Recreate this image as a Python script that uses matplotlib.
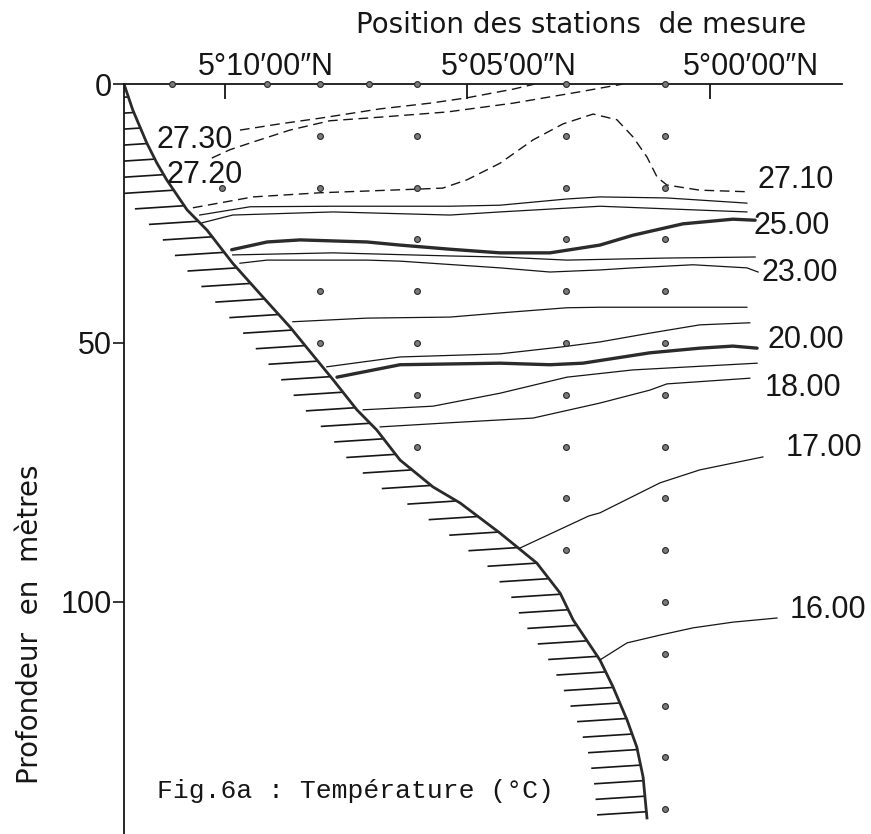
import numpy as np
import matplotlib.pyplot as plt
from matplotlib.transforms import ScaledTranslation

plt.rcParams['font.family'] = ['Liberation Sans', 'DejaVu Sans']

# positions en minutes de latitude au nord de 5°00'N, profondeurs en m
lat_ticks = [10, 5, 0]
lat_labels = ['5°10′00″N', '5°05′00″N', '5°00′00″N']
depth_ticks = [0, 50, 100]

# stations de mesure et profondeurs des prélèvements
st_lat = [11.10, 10.05, 9.13, 8.04, 7.03, 6.04, 2.97, 0.93]
st_depths = [
    [0],
    [20],
    [0],
    [0, 10, 20, 40, 50],
    [0],
    [0, 10, 20, 30, 40, 50, 60, 70],
    [0, 10, 20, 30, 40, 50, 60, 70, 80, 90],
    [0, 10, 20, 30, 40, 50, 60, 70, 80, 90, 100, 110, 120, 130, 140],
]

# profil du fond
bot_lat = [12.08, 11.90, 11.61, 11.40, 11.20, 10.78, 10.37, 9.84, 9.22, 8.66,
           8.19, 7.77, 7.28, 6.87, 6.39, 5.71, 5.15, 4.33, 3.57, 3.09,
           2.82, 2.27, 2.00, 1.71, 1.51, 1.38, 1.30]
bot_z = [0.0, 5.0, 11.4, 15.3, 18.5, 24.3, 28.2, 34.6, 41.1, 46.9,
         52.3, 57.1, 62.9, 66.8, 72.6, 77.8, 80.9, 86.7, 92.5, 98.3,
         103.5, 111.2, 116.4, 122.8, 128.0, 133.8, 141.7]

# isothermes (lat, profondeur)
iso_2730 = [(9.69, 8.9), (8.87, 7.7), (8.04, 6.6), (6.80, 4.8), (5.77, 3.7),
            (5.03, 2.7), (4.06, 1.0), (3.61, 0.0)]
iso_2720 = [(10.27, 14.3), (9.90, 12.7), (9.42, 11.2), (8.66, 8.9), (7.84, 7.1),
            (6.80, 6.4), (5.42, 5.4), (4.06, 3.7), (2.68, 1.5), (1.79, 0.0)]
iso_2710 = [(10.66, 23.9), (9.42, 21.8), (8.04, 21.0), (6.04, 20.3), (5.51, 20.1),
            (5.01, 18.5), (4.33, 15.3), (3.65, 10.8), (3.03, 7.7), (2.41, 5.8),
            (1.92, 6.9), (1.59, 10.2), (1.30, 14.1), (1.09, 18.0), (0.89, 19.5),
            (0.21, 20.5), (-0.76, 20.8)]
iso_2700 = [(10.52, 25.3), (9.48, 23.7), (7.77, 23.6), (5.36, 23.6), (4.33, 23.4),
            (2.95, 22.2), (2.27, 21.8), (0.89, 22.0), (-0.76, 23.0)]
iso_2600 = [(10.47, 26.8), (9.84, 25.3), (7.77, 24.7), (5.36, 25.3), (4.33, 24.7),
            (2.27, 23.6), (0.89, 24.1), (-0.76, 24.7)]
iso_2500 = [(9.86, 32.0), (9.13, 30.5), (8.45, 30.1), (7.07, 30.5), (6.39, 31.1),
            (5.36, 31.9), (4.33, 32.6), (3.30, 32.6), (2.27, 31.1), (1.59, 29.2),
            (0.56, 27.0), (-0.47, 26.1), (-0.93, 26.3)]
iso_2400 = [(9.84, 33.0), (7.77, 32.6), (5.36, 33.2), (4.33, 33.4), (2.95, 34.0),
            (0.89, 33.6), (-0.93, 33.4)]
iso_2300 = [(9.69, 34.6), (9.13, 34.0), (7.07, 34.0), (6.39, 34.2), (4.33, 35.5),
            (3.30, 36.3), (2.27, 35.9), (1.59, 35.5), (0.35, 34.9), (-0.76, 35.5),
            (-0.99, 36.3)]
iso_2200 = [(8.60, 45.9), (7.07, 45.2), (5.36, 45.0), (4.33, 44.2), (2.95, 43.2),
            (2.27, 43.1), (-0.76, 43.1)]
iso_2100 = [(7.90, 54.6), (6.39, 52.7), (4.33, 52.1), (3.09, 50.8), (2.27, 49.8),
            (1.24, 48.1), (0.21, 46.5), (-0.82, 46.1)]
iso_2000 = [(7.69, 56.6), (6.39, 54.2), (4.33, 53.9), (3.30, 54.2), (2.62, 53.9),
            (1.24, 51.9), (0.21, 51.0), (-0.47, 50.6), (-0.97, 51.0)]
iso_1900 = [(7.15, 62.9), (5.71, 62.2), (4.33, 59.7), (2.95, 56.6), (1.59, 55.2),
            (-0.97, 53.9)]
iso_1800 = [(6.80, 66.2), (5.36, 65.4), (3.65, 64.5), (2.27, 61.6), (1.24, 59.1),
            (0.89, 57.9), (-0.82, 56.8)]
iso_1700 = [(3.92, 89.6), (2.50, 83.4), (2.27, 82.8), (1.03, 77.0), (0.21, 74.5),
            (-1.09, 72.0)]
iso_1600 = [(2.27, 111.2), (1.71, 107.9), (1.03, 106.4), (0.35, 105.0),
            (-0.47, 103.9), (-1.38, 103.1)]

ink = '#161616'

fig = plt.figure(figsize=(8.71, 8.34), dpi=100)
ax = fig.add_axes([124 / 871, 0, (842 - 124) / 871, 1 - 84 / 834])
ax.set_xlim(12.08, -2.72)
ax.set_ylim(144.8, 0)

for s in ['right', 'bottom']:
    ax.spines[s].set_visible(False)
for s in ['left', 'top']:
    ax.spines[s].set_linewidth(1.3)
    ax.spines[s].set_color(ink)

ax.set_xticks(lat_ticks)
ax.xaxis.set_ticks_position('top')
ax.tick_params(axis='x', direction='in', length=11, width=1.3, color=ink,
               labeltop=False, labelbottom=False)
ax.set_yticks(depth_ticks)
ax.tick_params(axis='y', direction='out', length=8, width=1.2, color=ink,
               pad=1, labelsize=22, labelcolor=ink)

# étiquettes de latitude décalées à gauche des graduations
trans = ax.get_xaxis_transform() + ScaledTranslation(-0.27, 0.09, fig.dpi_scale_trans)
for lt, lab in zip(lat_ticks, lat_labels):
    ax.text(lt, 1.0, lab, transform=trans, ha='left', va='baseline',
            fontsize=22, color=ink)

# fond hachuré
hz = np.arange(2.5, 142.0, 3.0)
hl = np.interp(hz, bot_z, bot_lat)
for la, z in zip(hl, hz):
    ax.plot([la, la + 1.0], [z, z + 0.6], color=ink, lw=1.2)
ax.plot(bot_lat, bot_z, color='#2a2a2a', lw=2.0)

# isothermes
dashed = [iso_2730, iso_2720, iso_2710]
thick = [iso_2500, iso_2000]
thin = [iso_2700, iso_2600, iso_2400, iso_2300, iso_2200, iso_2100,
        iso_1900, iso_1800, iso_1700, iso_1600]

for iso in dashed:
    la, z = zip(*iso)
    ax.plot(la, z, color=ink, lw=1.0, ls=(0, (7, 4)))
for iso in thick:
    la, z = zip(*iso)
    ax.plot(la, z, color='#2b2b2b', lw=2.4, solid_capstyle='round')
for iso in thin:
    la, z = zip(*iso)
    ax.plot(la, z, color=ink, lw=0.9)

# points de mesure
for la, deps in zip(st_lat, st_depths):
    ax.plot([la] * len(deps), deps, 'o', ms=4.2, mfc='#7a7a7a', mec='#2a2a2a',
            mew=0.8, clip_on=False, zorder=5)

# valeurs des isothermes
iso_labels = [
    ('27.30', 11.40, 10.8), ('27.20', 11.20, 17.6), ('27.10', -0.97, 18.5),
    ('25.00', -0.89, 27.4), ('23.00', -1.07, 36.5), ('20.00', -1.18, 49.4),
    ('18.00', -1.13, 58.7), ('17.00', -1.55, 70.3), ('16.00', -1.65, 101.5),
]
for txt, la, z in iso_labels:
    ax.text(la, z, txt, ha='left', va='center', fontsize=22, color=ink)

fig.text(581 / 871, 1 - 33 / 834, 'Position des stations  de mesure',
         ha='center', va='baseline', fontsize=20, color=ink,
         family=['DejaVu Sans'])
fig.text(30 / 871, 1 - 624 / 834, 'Profondeur  en  mètres', rotation=90,
         ha='center', va='center', fontsize=20, color=ink,
         family=['DejaVu Sans'])
fig.text(157 / 871, 1 - 798 / 834, 'Fig.6a : Température (°C)',
         ha='left', va='baseline', fontsize=19, color=ink,
         family=['Liberation Mono', 'DejaVu Sans Mono'])

fig.savefig('out.png', dpi=100)
